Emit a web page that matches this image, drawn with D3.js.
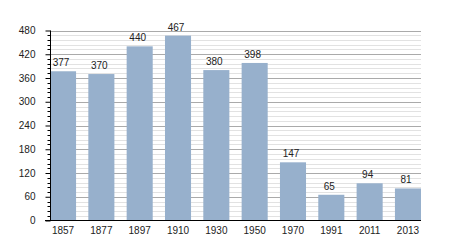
<!DOCTYPE html>
<meta charset="utf-8">
<script src="https://d3js.org/d3.v7.min.js"></script>
<body style="margin:0;background:#fff">
<div id="chart"></div>
<script>
var years = ["1857","1877","1897","1910","1930","1950","1970","1991","2011","2013"];
var values = [377,370,440,467,380,398,147,65,94,81];
var yTicks = [0,60,120,180,240,300,360,420,480];

var W = 450, H = 250;
var mLeft = 50, mRight = 421, mTop = 30.5, mBottom = 220.5;

var svg = d3.select('#chart').append('svg').attr('width',W).attr('height',H)
	.style('font-family','"Liberation Sans", Arial, sans-serif');

var x = d3.scaleBand().domain(years).range([mLeft,mRight]).paddingInner(0.32).paddingOuter(0);
var y = d3.scaleLinear().domain([0,480]).range([mBottom,mTop]);

// minor grid every 12
var minor = d3.range(12,480,12).filter(function(v){return v%60!==0;});
svg.append('g').selectAll('line').data(minor).enter().append('line')
	.attr('x1',mLeft).attr('x2',mRight)
	.attr('y1',function(d){return Math.round(y(d))+0.5;})
	.attr('y2',function(d){return Math.round(y(d))+0.5;})
	.attr('stroke','#e2e2e2').attr('stroke-width',1);
// major grid
svg.append('g').selectAll('line').data(yTicks.slice(1)).enter().append('line')
	.attr('x1',mLeft).attr('x2',mRight)
	.attr('y1',function(d){return Math.round(y(d))+0.5;})
	.attr('y2',function(d){return Math.round(y(d))+0.5;})
	.attr('stroke','#aaaaaa').attr('stroke-width',1);

// bars
svg.append('g').selectAll('rect').data(values).enter().append('rect')
	.attr('x',function(d,i){return x(years[i]);})
	.attr('width',x.bandwidth())
	.attr('y',function(d){return y(d);})
	.attr('height',function(d){return y(0)-y(d);})
	.attr('fill','#97b0cc');

// value labels
svg.append('g').selectAll('text').data(values).enter().append('text')
	.attr('x',function(d,i){return x(years[i])+x.bandwidth()/2-2;})
	.attr('y',function(d){return y(d)-5;})
	.attr('text-anchor','middle').attr('font-size',10).attr('fill','#222')
	.text(function(d){return d;});

// y axis with minor ticks
var yAxis = d3.axisLeft(y).tickValues(yTicks).tickSize(5).tickPadding(10).tickFormat(d3.format('d'));
var ga = svg.append('g').attr('transform','translate('+(mLeft+0.5)+',0)').call(yAxis);
ga.select('.domain').remove();
ga.selectAll('.tick line').attr('stroke','#000');
ga.selectAll('text').attr('font-size',10).attr('fill','#222').attr('font-family','"Liberation Sans", Arial, sans-serif');
svg.append('g').selectAll('line').data(minor).enter().append('line')
	.attr('x1',mLeft-2.5).attr('x2',mLeft)
	.attr('y1',function(d){return Math.round(y(d))+0.5;})
	.attr('y2',function(d){return Math.round(y(d))+0.5;})
	.attr('stroke','#000');
svg.append('line').attr('x1',mLeft+0.5).attr('x2',mLeft+0.5).attr('y1',mTop).attr('y2',mBottom)
	.attr('stroke','#000');

// x axis
var xAxis = d3.axisBottom(x).tickSize(0).tickPadding(6);
var gx = svg.append('g').attr('transform','translate(0,'+mBottom+')').call(xAxis);
gx.select('.domain').remove();
gx.selectAll('text').attr('font-size',10).attr('fill','#222').attr('font-family','"Liberation Sans", Arial, sans-serif');
svg.append('line').attr('x1',mLeft-5).attr('x2',mRight).attr('y1',mBottom).attr('y2',mBottom)
	.attr('stroke','#000').attr('stroke-width',1.2);
</script>
</body>
